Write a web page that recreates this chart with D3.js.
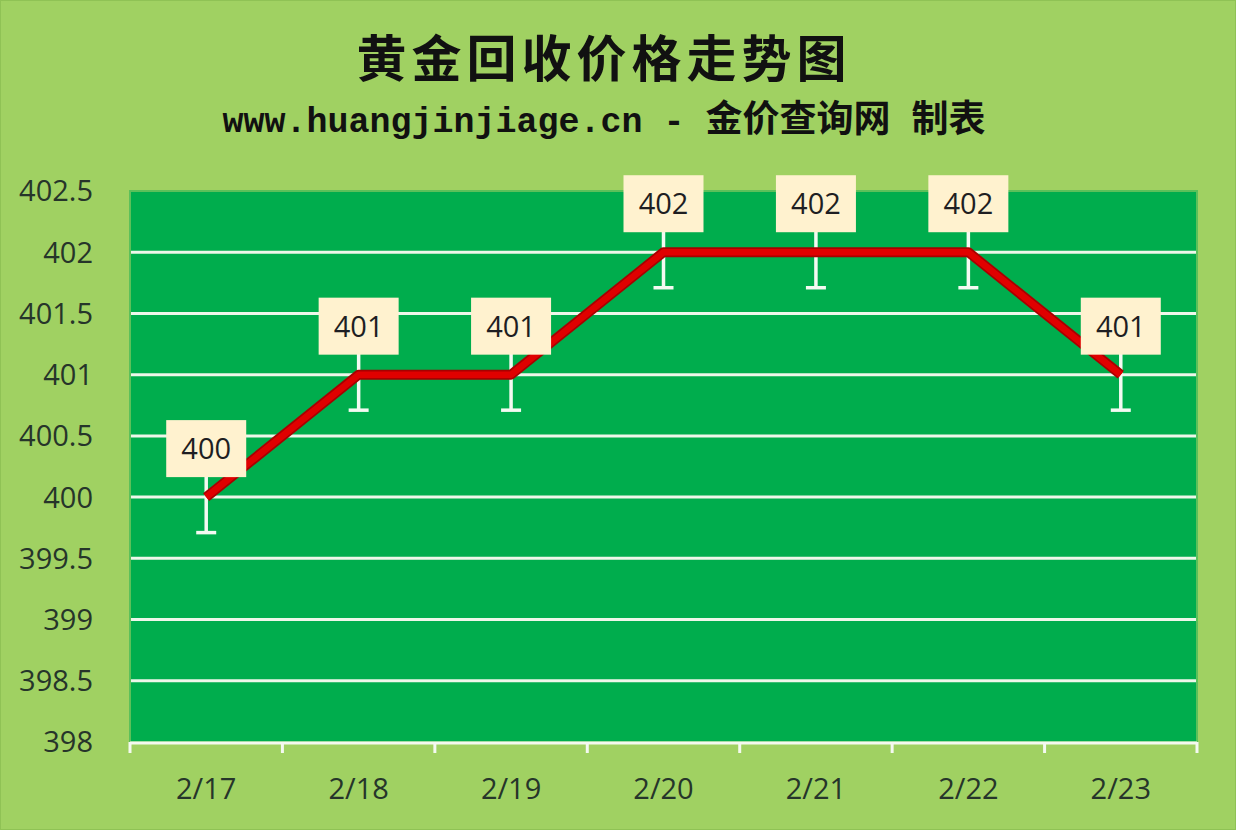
<!DOCTYPE html>
<html>
<head>
<meta charset="utf-8">
<script src="https://cdn.jsdelivr.net/npm/d3@7"></script>
<style>
  html, body { margin: 0; padding: 0; background: #a0d162; }
  #chart-container { width: 1236px; height: 830px; }
</style>
</head>
<body>
<div id="chart-container"></div>
<script>
// Chart data
const dates = ["2/17", "2/18", "2/19", "2/20", "2/21", "2/22", "2/23"];
const prices = [400, 401, 401, 402, 402, 402, 401];
const yTickValues = [398, 398.5, 399, 399.5, 400, 400.5, 401, 401.5, 402, 402.5];
const errorMargin = 0.29;

const titleText = "黄金回收价格走势图";
const subtitleParts = [
  { text: "www.huangjinjiage.cn - ", cjk: false },
  { text: "金价查询网", cjk: true },
  { text: " ", cjk: false },
  { text: "制表", cjk: true },
];

const attrs = {
  svgWidth: 1236,
  svgHeight: 830,
  plotLeft: 130,
  plotRight: 1197,
  plotTop: 191,
  plotBottom: 742,
  bgColor: "#a0d162",
  plotColor: "#00ad4d",
  gridColor: "#eef7ea",
  textColor: "#26352a",
  lineColor: "#e00000",
  lineEdge: "#a80000",
  labelFill: "#fff2cf",
  labelWidth: 80,
  labelHeight: 57,
  labelGap: 20,
  axisFont: "'Open Sans', 'Noto Sans', sans-serif",
};

const svg = d3
  .select("#chart-container")
  .append("svg")
  .attr("width", attrs.svgWidth)
  .attr("height", attrs.svgHeight);

// Background
svg
  .append("rect")
  .attr("x", 0.5)
  .attr("y", 0.5)
  .attr("width", attrs.svgWidth - 1)
  .attr("height", attrs.svgHeight - 1)
  .attr("fill", attrs.bgColor)
  .attr("stroke", "#8fc255");

// Titles
svg
  .append("text")
  .attr("x", 604)
  .attr("y", 55)
  .attr("text-anchor", "middle")
  .attr("dominant-baseline", "central")
  .attr("font-family", "'Noto Sans CJK SC', sans-serif")
  .attr("font-weight", 700)
  .attr("font-size", 50)
  .attr("letter-spacing", 5)
  .attr("fill", "#111")
  .text(titleText);

svg
  .append("text")
  .attr("x", 604)
  .attr("y", 132)
  .attr("text-anchor", "middle")
  .attr("font-weight", 700)
  .attr("fill", "#111")
  .selectAll("tspan")
  .data(subtitleParts)
  .join("tspan")
  .attr("font-family", (d) =>
    d.cjk
      ? "'Noto Sans CJK SC', sans-serif"
      : "'Liberation Mono', 'DejaVu Sans Mono', monospace"
  )
  .attr("font-size", (d) => (d.cjk ? 37 : 35))
  .attr("xml:space", "preserve")
  .style("white-space", "pre")
  .text((d) => d.text);

// Scales
const x = d3
  .scaleBand()
  .domain(dates)
  .range([attrs.plotLeft, attrs.plotRight])
  .padding(0);

const y = d3
  .scaleLinear()
  .domain([d3.min(yTickValues), d3.max(yTickValues)])
  .range([attrs.plotBottom, attrs.plotTop]);

const px = (d) => x(d) + x.bandwidth() / 2;

// Plot area
svg
  .append("rect")
  .attr("x", attrs.plotLeft)
  .attr("y", attrs.plotTop)
  .attr("width", attrs.plotRight - attrs.plotLeft)
  .attr("height", attrs.plotBottom - attrs.plotTop)
  .attr("fill", attrs.plotColor)
  .attr("stroke", "#5cc05a")
  .attr("stroke-width", 2);

// Gridlines
svg
  .append("g")
  .selectAll("line")
  .data(yTickValues.filter((d) => d > y.domain()[0] && d < y.domain()[1]))
  .join("line")
  .attr("x1", attrs.plotLeft + 1)
  .attr("x2", attrs.plotRight - 1)
  .attr("y1", (d) => y(d))
  .attr("y2", (d) => y(d))
  .attr("stroke", attrs.gridColor)
  .attr("stroke-width", 3);

// Y axis labels
svg
  .append("g")
  .selectAll("text")
  .data(yTickValues)
  .join("text")
  .attr("x", 93)
  .attr("y", (d) => y(d))
  .attr("dy", "0.36em")
  .attr("text-anchor", "end")
  .attr("font-family", attrs.axisFont)
  .attr("font-size", 29)
  .attr("fill", attrs.textColor)
  .text((d) => String(d));

// X axis
const xAxis = svg
  .append("g")
  .attr("transform", `translate(0,${attrs.plotBottom})`)
  .call(
    d3
      .axisBottom(x)
      .tickSize(0)
      .tickPadding(0)
  );
xAxis.select(".domain").remove();
xAxis.selectAll(".tick line").remove();
xAxis
  .selectAll(".tick text")
  .attr("y", 57)
  .attr("dy", 0)
  .attr("font-family", attrs.axisFont)
  .attr("font-size", 29)
  .attr("fill", attrs.textColor);

const axisColor = "#f4f9f0";
xAxis
  .append("line")
  .attr("x1", attrs.plotLeft)
  .attr("x2", attrs.plotRight)
  .attr("y1", 1)
  .attr("y2", 1)
  .attr("stroke", axisColor)
  .attr("stroke-width", 3);
xAxis
  .selectAll(".band-tick")
  .data(dates.concat(["end"]))
  .join("line")
  .attr("class", "band-tick")
  .attr("x1", (d, i) => (i < dates.length ? x(d) : attrs.plotRight))
  .attr("x2", (d, i) => (i < dates.length ? x(d) : attrs.plotRight))
  .attr("y1", 0)
  .attr("y2", 11)
  .attr("stroke", axisColor)
  .attr("stroke-width", 3);

const points = dates.map((d, i) => ({ date: d, value: prices[i] }));

// Error bars (their upper ends sit behind the label boxes)
const err = svg.append("g").attr("stroke", "#f4faf2").attr("stroke-width", 3.5);
err
  .selectAll(".err-line")
  .data(points)
  .join("line")
  .attr("class", "err-line")
  .attr("x1", (d) => px(d.date))
  .attr("x2", (d) => px(d.date))
  .attr("y1", (d) => y(d.value + errorMargin))
  .attr("y2", (d) => y(d.value - errorMargin));
err
  .selectAll(".err-cap")
  .data(points)
  .join("line")
  .attr("class", "err-cap")
  .attr("x1", (d) => px(d.date) - 10)
  .attr("x2", (d) => px(d.date) + 10)
  .attr("y1", (d) => y(d.value - errorMargin))
  .attr("y2", (d) => y(d.value - errorMargin));

// Price line
const line = d3
  .line()
  .x((d) => px(d.date))
  .y((d) => y(d.value));

svg
  .append("path")
  .datum(points)
  .attr("d", line)
  .attr("fill", "none")
  .attr("stroke", attrs.lineEdge)
  .attr("stroke-width", 10)
  .attr("stroke-linejoin", "round");
svg
  .append("path")
  .datum(points)
  .attr("d", line)
  .attr("fill", "none")
  .attr("stroke", attrs.lineColor)
  .attr("stroke-width", 6.5)
  .attr("stroke-linejoin", "round");

// Data labels
const labels = svg
  .append("g")
  .selectAll("g")
  .data(points)
  .join("g")
  .attr(
    "transform",
    (d) =>
      `translate(${px(d.date)},${y(d.value) - attrs.labelGap - attrs.labelHeight / 2})`
  );
labels
  .append("rect")
  .attr("x", -attrs.labelWidth / 2)
  .attr("y", -attrs.labelHeight / 2)
  .attr("width", attrs.labelWidth)
  .attr("height", attrs.labelHeight)
  .attr("fill", attrs.labelFill);
labels
  .append("text")
  .attr("text-anchor", "middle")
  .attr("dy", "0.36em")
  .attr("font-family", attrs.axisFont)
  .attr("font-size", 29)
  .attr("fill", "#1e1e22")
  .text((d) => d.value);
</script>
</body>
</html>
